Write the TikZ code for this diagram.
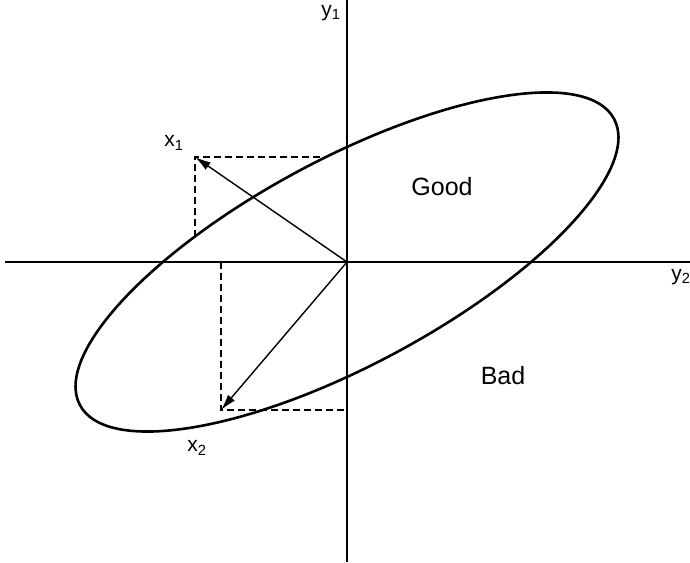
\documentclass[tikz,border=0pt]{standalone}
\usepackage{fontspec}
\setmainfont{Liberation Sans}
\usetikzlibrary{arrows.meta}
\tikzset{
  axisline/.style={line width=1.5pt},
  ringline/.style={line width=2.6pt},
  vecline/.style={line width=1.4pt, -{Latex[length=16pt,width=9pt]}},
  projline/.style={line width=1.3pt, dash pattern=on 7pt off 4pt},
  axislabel/.style={font=\fontsize{21}{24}\selectfont, inner sep=0pt},
  regionlabel/.style={font=\fontsize{25}{30}\selectfont, inner sep=0pt}
}
\begin{document}
\begin{tikzpicture}[x=1pt, y=1pt]
  \useasboundingbox (-347,-300) rectangle (343,262);
  \coordinate (o) at (0,0);
  \coordinate (top) at (0,262);
  \coordinate (bottom) at (0,-300);
  \coordinate (left) at (-342,0);
  \coordinate (right) at (343,0);
  \coordinate (x1tip) at (-152,105);
  \coordinate (x2tip) at (-126,-148);
  \coordinate (x1foot) at (-152,25);
  \coordinate (x1side) at (-21,105);
  \coordinate (x2foot) at (-126,0);
  \coordinate (x2side) at (0,-148);
  \draw[axisline] (top) -- (bottom);
  \draw[axisline] (left) -- (right);
  \draw[ringline, rotate=28.2] (o) ellipse [x radius=303, y radius=103];
  \draw[projline] (x1foot) -- (x1tip) -- (x1side);
  \draw[projline] (x2foot) -- (x2tip) -- (x2side);
  \draw[vecline] (o) -- (x1tip);
  \draw[vecline] (o) -- (x2tip);
  \node[axislabel] (y1) at (-16,249) {y\textsubscript{1}};
  \node[axislabel] (y2) at (334,-15) {y\textsubscript{2}};
  \node[axislabel] (x1) at (-173,119) {x\textsubscript{1}};
  \node[axislabel] (x2) at (-150,-186) {x\textsubscript{2}};
  \node[regionlabel] (good) at (95,75) {Good};
  \node[regionlabel] (bad) at (156,-114) {Bad};
\end{tikzpicture}
\end{document}
